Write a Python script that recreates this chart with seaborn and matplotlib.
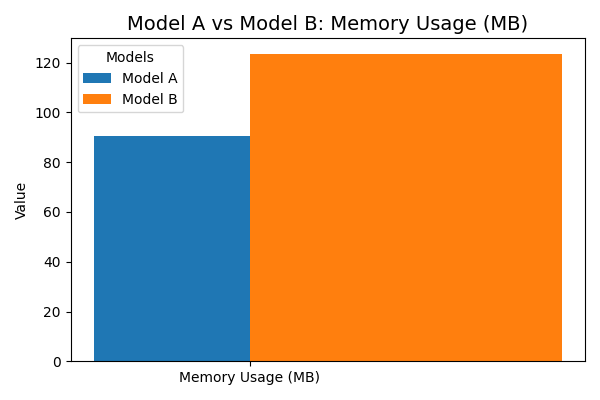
import matplotlib
matplotlib.use("Agg")
import matplotlib.pyplot as plt
import seaborn as sns

models = ["Model A", "Model B"]
values = [90.6, 123.6]
metric = "Memory Usage (MB)"
bar_width = 0.35

colors = ["#1f77b4", "#ff7f0e"]

fig, ax = plt.subplots(figsize=(6, 4), dpi=100)

# Model A sits left of the tick, Model B (double width) right of it
positions = [-bar_width / 2, bar_width]
widths = [bar_width, 2 * bar_width]
for m, v, p, w, c in zip(models, values, positions, widths, colors):
    sns.barplot(x=[p], y=[v], native_scale=True, width=w, color=c,
                saturation=1, errorbar=None, label=m, ax=ax)

ax.set_xticks([0])
ax.set_xticklabels([metric])
ax.set_xlim(-0.4025, 0.7525)
ax.set_ylabel("Value")
ax.set_xlabel("")
ax.set_title("Model A vs Model B: Memory Usage (MB)", fontsize=14)
ax.legend(title="Models", loc="upper left")
fig.tight_layout()
fig.savefig("out.png", dpi=100)
